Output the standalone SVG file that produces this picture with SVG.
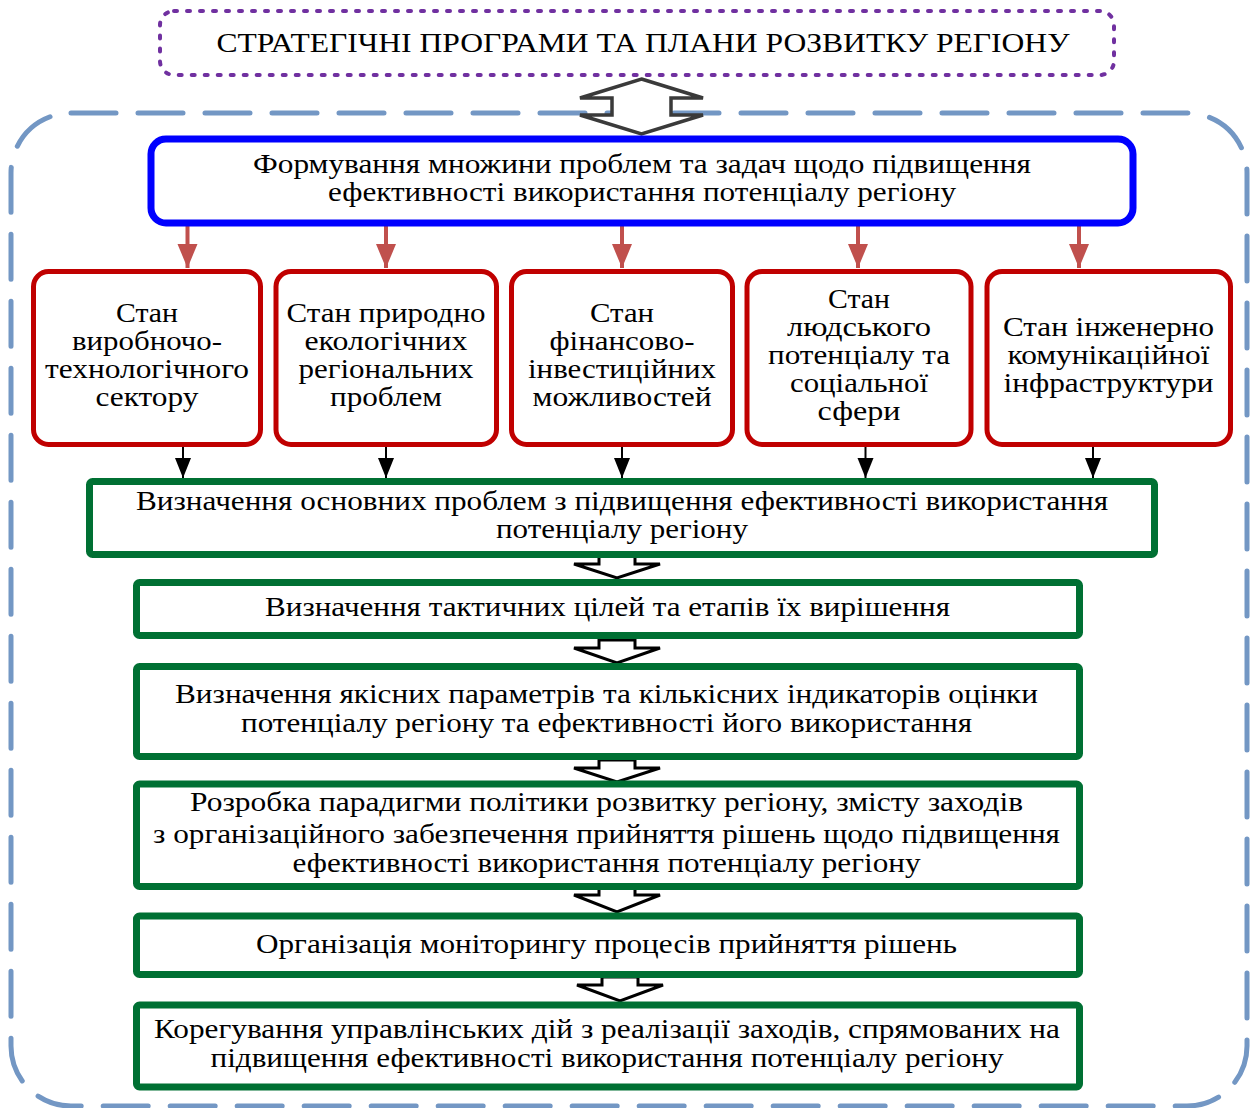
<svg xmlns="http://www.w3.org/2000/svg" width="1250" height="1108" viewBox="0 0 1250 1108">
<defs>
<style>
text{font-family:"Liberation Serif","Times New Roman",serif;font-size:28px;fill:#000;text-anchor:middle}
.title{fill:#fff;stroke:#7030A0;stroke-width:4;stroke-dasharray:3 10;stroke-linecap:round}
.outer{fill:none;stroke:#7397C4;stroke-width:5;stroke-dasharray:45 22;stroke-linecap:round}
.blue{fill:#fff;stroke:#0000FF;stroke-width:7}
.red{fill:#fff;stroke:#C00000;stroke-width:5}
.green{fill:#fff;stroke:#007033;stroke-width:7}
.rl{stroke:#C0504D;stroke-width:4;fill:none}
.bl{stroke:#000;stroke-width:2;fill:none}
.hollow{fill:#fff;stroke:#000;stroke-width:3;stroke-linejoin:miter}
</style>
<marker id="ra" markerUnits="userSpaceOnUse" markerWidth="22" markerHeight="26" refX="11" refY="24" orient="0" viewBox="0 0 22 26"><path d="M1,0 L21,0 L11,24 Z" fill="#C0504D"/></marker>
<marker id="ba" markerUnits="userSpaceOnUse" markerWidth="18" markerHeight="22" refX="9" refY="20" orient="0" viewBox="0 0 18 22"><path d="M1,0 L17,0 L9,20 Z" fill="#000"/></marker>
</defs>

<rect class="outer" x="11" y="113" width="1236" height="993" rx="60" ry="60"/>

<g id="n-title">
<rect class="title" x="160" y="11" width="954" height="64" rx="14"/>
<text x="643" y="52" textLength="853" lengthAdjust="spacingAndGlyphs">СТРАТЕГІЧНІ ПРОГРАМИ ТА ПЛАНИ РОЗВИТКУ РЕГІОНУ</text>
</g>

<g id="connectors">
<polygon class="hollow" style="stroke:#3A3A3A;stroke-width:3.5" points="641.5,79 703,98 671,98 671,115 703,115 641.5,134 580,115 612,115 612,98 580,98"/>
<line class="rl" x1="187.5" y1="224" x2="187.5" y2="268" marker-end="url(#ra)"/>
<line class="rl" x1="386" y1="224" x2="386" y2="268" marker-end="url(#ra)"/>
<line class="rl" x1="622" y1="224" x2="622" y2="268" marker-end="url(#ra)"/>
<line class="rl" x1="858" y1="224" x2="858" y2="268" marker-end="url(#ra)"/>
<line class="rl" x1="1079" y1="224" x2="1079" y2="268" marker-end="url(#ra)"/>
<line class="bl" x1="183" y1="446" x2="183" y2="478" marker-end="url(#ba)"/>
<line class="bl" x1="386" y1="446" x2="386" y2="478" marker-end="url(#ba)"/>
<line class="bl" x1="622" y1="446" x2="622" y2="478" marker-end="url(#ba)"/>
<line class="bl" x1="865.5" y1="446" x2="865.5" y2="478" marker-end="url(#ba)"/>
<line class="bl" x1="1093" y1="446" x2="1093" y2="478" marker-end="url(#ba)"/>
<polygon class="hollow" points="599,556 635,556 635,564 660,564 617,578 574,564 599,564"/>
<polygon class="hollow" points="599,640 635,640 635,648 660,648 617,663 574,648 599,648"/>
<polygon class="hollow" points="599,760 635,760 635,768 660,768 617,782 574,768 599,768"/>
<polygon class="hollow" points="599,888 635,888 635,895 660,895 617,912 574,895 599,895"/>
<polygon class="hollow" points="602,977 638,977 638,985 663,985 620,1001 577,985 602,985"/>
</g>

<g id="n-blue">
<rect class="blue" x="151" y="139" width="982" height="84" rx="15"/>
<text x="642" y="173" textLength="778" lengthAdjust="spacingAndGlyphs">Формування множини проблем та задач щодо підвищення</text>
<text x="642" y="201" textLength="628" lengthAdjust="spacingAndGlyphs">ефективності використання потенціалу регіону</text>
</g>

<g id="n-r1">
<rect class="red" x="33.5" y="271.5" width="227" height="173" rx="15"/>
<text x="147" y="322" textLength="62" lengthAdjust="spacingAndGlyphs">Стан</text>
<text x="147" y="350" textLength="150" lengthAdjust="spacingAndGlyphs">виробночо-</text>
<text x="147" y="378" textLength="204" lengthAdjust="spacingAndGlyphs">технологічного</text>
<text x="147" y="406" textLength="103" lengthAdjust="spacingAndGlyphs">сектору</text>
</g>

<g id="n-r2">
<rect class="red" x="276" y="271.5" width="220.5" height="173" rx="15"/>
<text x="386" y="322" textLength="199" lengthAdjust="spacingAndGlyphs">Стан природно</text>
<text x="386" y="350" textLength="163" lengthAdjust="spacingAndGlyphs">екологічних</text>
<text x="386" y="378" textLength="175" lengthAdjust="spacingAndGlyphs">регіональних</text>
<text x="386" y="406" textLength="112" lengthAdjust="spacingAndGlyphs">проблем</text>
</g>

<g id="n-r3">
<rect class="red" x="511.5" y="271.5" width="221" height="173" rx="15"/>
<text x="622" y="322" textLength="64" lengthAdjust="spacingAndGlyphs">Стан</text>
<text x="622" y="350" textLength="145" lengthAdjust="spacingAndGlyphs">фінансово-</text>
<text x="622" y="378" textLength="188" lengthAdjust="spacingAndGlyphs">інвестиційних</text>
<text x="622" y="406" textLength="179" lengthAdjust="spacingAndGlyphs">можливостей</text>
</g>

<g id="n-r4">
<rect class="red" x="747" y="271.5" width="224" height="173" rx="15"/>
<text x="859" y="308" textLength="62" lengthAdjust="spacingAndGlyphs">Стан</text>
<text x="859" y="336" textLength="144" lengthAdjust="spacingAndGlyphs">людського</text>
<text x="859" y="364" textLength="182" lengthAdjust="spacingAndGlyphs">потенціалу та</text>
<text x="859" y="392" textLength="138" lengthAdjust="spacingAndGlyphs">соціальної</text>
<text x="859" y="420" textLength="83" lengthAdjust="spacingAndGlyphs">сфери</text>
</g>

<g id="n-r5">
<rect class="red" x="987" y="271.5" width="243.5" height="173" rx="15"/>
<text x="1108.5" y="336" textLength="211" lengthAdjust="spacingAndGlyphs">Стан інженерно</text>
<text x="1108.5" y="364" textLength="202" lengthAdjust="spacingAndGlyphs">комунікаційної</text>
<text x="1108.5" y="392" textLength="210" lengthAdjust="spacingAndGlyphs">інфраструктури</text>
</g>

<g id="n-g1">
<rect class="green" x="89.5" y="481.5" width="1065" height="73" rx="3"/>
<text x="622" y="510" textLength="972" lengthAdjust="spacingAndGlyphs">Визначення основних проблем з підвищення ефективності використання</text>
<text x="622" y="538" textLength="252" lengthAdjust="spacingAndGlyphs">потенціалу регіону</text>
</g>

<g id="n-g2">
<rect class="green" x="136.5" y="582.5" width="943" height="53" rx="3"/>
<text x="607.5" y="616" textLength="685" lengthAdjust="spacingAndGlyphs">Визначення тактичних цілей та етапів їх вирішення</text>
</g>

<g id="n-g3">
<rect class="green" x="136.5" y="666.5" width="943" height="90" rx="3"/>
<text x="606.5" y="703" textLength="863" lengthAdjust="spacingAndGlyphs">Визначення якісних параметрів та кількісних індикаторів оцінки</text>
<text x="606.5" y="732" textLength="731" lengthAdjust="spacingAndGlyphs">потенціалу регіону та ефективності його використання</text>
</g>

<g id="n-g4">
<rect class="green" x="136.5" y="784" width="943" height="102.5" rx="3"/>
<text x="606.5" y="811" textLength="833" lengthAdjust="spacingAndGlyphs">Розробка парадигми політики розвитку регіону, змісту заходів</text>
<text x="606.5" y="843" textLength="907" lengthAdjust="spacingAndGlyphs">з організаційного забезпечення прийняття рішень щодо підвищення</text>
<text x="606.5" y="872" textLength="628" lengthAdjust="spacingAndGlyphs">ефективності використання потенціалу регіону</text>
</g>

<g id="n-g5">
<rect class="green" x="136.5" y="916" width="943" height="58.5" rx="3"/>
<text x="606.5" y="953" textLength="701" lengthAdjust="spacingAndGlyphs">Організація моніторингу процесів прийняття рішень</text>
</g>

<g id="n-g6">
<rect class="green" x="136.5" y="1005" width="943" height="82" rx="3"/>
<text x="607" y="1038" textLength="906" lengthAdjust="spacingAndGlyphs">Корегування управлінських дій з реалізації заходів, спрямованих на</text>
<text x="607" y="1067" textLength="793" lengthAdjust="spacingAndGlyphs">підвищення ефективності використання потенціалу регіону</text>
</g>
</svg>
